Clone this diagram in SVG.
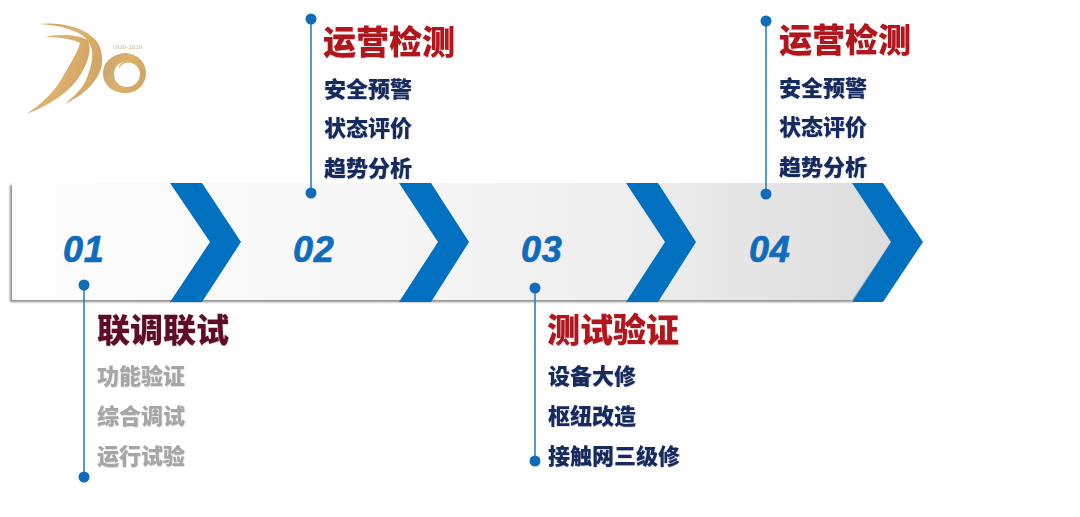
<svg xmlns="http://www.w3.org/2000/svg" width="1080" height="517" viewBox="0 0 1080 517">
<style>
text{font-family:"Liberation Sans","Noto Sans CJK SC",sans-serif;font-weight:700}
.cjk{font-family:"Noto Sans CJK SC",sans-serif;font-weight:900}
.t{font-size:33px;filter:url(#ts)}
.i{font-size:22px;fill:#12295e;filter:url(#ts)}
.g{fill:#a6a6a6}
.red{fill:#b2141a}
.n{font-size:36px;font-style:italic;fill:#0f6cbd;stroke:#0f6cbd;stroke-width:0.7;letter-spacing:0.8px}
.chev{fill:#0070c0}
.line{stroke:#2f7fbf;stroke-width:1.6;fill:none}
.dot{fill:#0f6cb8}
.gold{fill:url(#gold)}
</style>
<defs>
<linearGradient id="band" x1="0" x2="1" y1="0" y2="0">
<stop offset="0" stop-color="#fdfdfd"/><stop offset="0.4" stop-color="#f7f7f7"/><stop offset="0.7" stop-color="#eeeeee"/><stop offset="1" stop-color="#dcdcdc"/>
</linearGradient>
<linearGradient id="gold" x1="0" x2="1" y1="0" y2="0.3">
<stop offset="0" stop-color="#c9a468"/><stop offset="0.6" stop-color="#dcb26f"/><stop offset="1" stop-color="#d3a664"/>
</linearGradient>
<filter id="blur" x="-5%" y="-10%" width="110%" height="120%"><feGaussianBlur stdDeviation="1.2"/></filter>
<filter id="ts" x="-5%" y="-10%" width="115%" height="125%"><feDropShadow dx="0.4" dy="0.6" stdDeviation="0.5" flood-color="#000" flood-opacity="0.2"/></filter>
</defs>

<g id="logo">
<path class="gold" d="M39 24C58 22 78 26 90 35C100 42 103 52 102 64C100 80 84 95 65 104C74 96 81 90 85 82C90 72 93 60 92 50C90 42 86 38 82 35C70 28 56 25 39 24Z"/>
<path class="gold" d="M45 37C58 34 76 34 88 40C92 50 88 62 82 72C72 92 46 107 26 114C42 104 54 92 62 78C70 64 78 52 80 43C70 38 55 37 45 37Z"/>
<path class="gold" fill-rule="evenodd" d="M124 53C137 53 146 62 146 73C146 86 135 94 123 93C111 92 103 84 103 73C103 63 111 55 124 53ZM126 62C118 62 114 68 114 74C114 82 120 87 127 87C134 87 140 81 140 74C140 67 134 62 126 62Z"/>
<path d="M119 67C124 60 134 60 139 67" fill="none" stroke="#dcb26f" stroke-width="1.4"/>
<text x="112" y="49" font-size="7" fill="#d3b98a" style="font-family:'Liberation Serif',serif;font-weight:400">1920-2020</text>
</g>

<g id="band">
<path d="M10 185H852L891 242L852 302H10Z" fill="#8c8c8c" filter="url(#blur)"/>
<path d="M12 183H852L891 242L852 300H12Z" fill="url(#band)"/>
</g>
<g id="chevrons">
<path class="chev" d="M170 183H202L241 242L202 302H170L210 242Z"/>
<path class="chev" d="M399 183H431L469 242L431 302H399L438 242Z"/>
<path class="chev" d="M626 183H658L696 242L658 302H626L665 242Z"/>
<path class="chev" d="M852 183H883L923 242L883 302H852L891 242Z"/>
</g>

<g id="connectors">
<path class="line" d="M84 285V477"/>
<path class="line" d="M311 19V193"/>
<path class="line" d="M535 288V461"/>
<path class="line" d="M766 21V194"/>
<circle class="dot" cx="84" cy="285" r="5.5"/><circle class="dot" cx="84" cy="477" r="5.5"/>
<circle class="dot" cx="311" cy="19" r="5.5"/><circle class="dot" cx="311" cy="193" r="5.5"/>
<circle class="dot" cx="535" cy="288" r="5.5"/><circle class="dot" cx="535" cy="461" r="5.5"/>
<circle class="dot" cx="766" cy="21" r="5.5"/><circle class="dot" cx="766" cy="194" r="5.5"/>
</g>

<g id="node-01">
<text class="n" x="63" y="262">01</text>
<text class="cjk t" x="97" y="342" fill="#5f0f28">联调联试</text>
<text class="cjk i" x="97" y="384" style="fill:#a6a6a6">功能验证</text>
<text class="cjk i" x="97" y="424" style="fill:#a6a6a6">综合调试</text>
<text class="cjk i" x="97" y="464" style="fill:#a6a6a6">运行试验</text>
</g>
<g id="node-02">
<text class="n" x="293" y="262">02</text>
<text class="cjk t red" x="323" y="54">运营检测</text>
<text class="cjk i" x="324" y="97">安全预警</text>
<text class="cjk i" x="324" y="136">状态评价</text>
<text class="cjk i" x="324" y="176">趋势分析</text>
</g>
<g id="node-03">
<text class="n" x="521" y="262">03</text>
<text class="cjk t red" x="547" y="342">测试验证</text>
<text class="cjk i" x="548" y="384">设备大修</text>
<text class="cjk i" x="548" y="424">枢纽改造</text>
<text class="cjk i" x="548" y="464">接触网三级修</text>
</g>
<g id="node-04">
<text class="n" x="749" y="262">04</text>
<text class="cjk t red" x="779" y="52">运营检测</text>
<text class="cjk i" x="779" y="96">安全预警</text>
<text class="cjk i" x="779" y="135">状态评价</text>
<text class="cjk i" x="779" y="175">趋势分析</text>
</g>
</svg>
